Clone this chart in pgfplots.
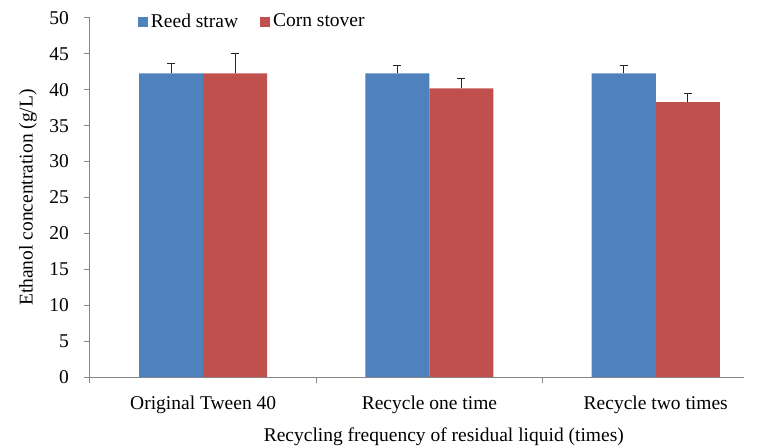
\documentclass[border=0pt]{standalone}
\usepackage{pgfplots}
\pgfplotsset{compat=1.18}
\usepackage{fontspec}
\setmainfont{Liberation Serif}
\definecolor{cblue}{HTML}{4F81BD}
\definecolor{cred}{HTML}{C0504D}
\definecolor{axgray}{HTML}{868686}
\begin{document}
\fontsize{19.5bp}{23bp}\selectfont
\begin{tikzpicture}
\begin{axis}[
  scale only axis,
  width=654bp, height=359bp,
  ymin=0, ymax=50,
  ytick={0,5,...,50},
  xmin=-0.5, xmax=2.39,
  xtick={0,1,2},
  xticklabels={Original Tween 40, Recycle one time, Recycle two times},
  minor xtick={-0.5,0.5,1.5},
  axis x line=bottom, axis y line=left,
  axis line style={axgray, line width=1bp, -},
  tick align=outside,
  major tick length=5.5bp, minor tick length=6bp,
  x tick style={draw=none},
  minor x tick style={draw=axgray, line width=1bp},
  y tick style={axgray, line width=1bp},
  /pgf/number format/assume math mode=true,
  tick label style={font=\fontsize{19.5bp}{23bp}\selectfont, black},
  xticklabel style={yshift=-7bp},
  yticklabel style={xshift=-9bp},
  ylabel={Ethanol concentration (g/L)},
  xlabel={Recycling frequency of residual liquid (times)},
  label style={font=\fontsize{19.5bp}{23bp}\selectfont},
  every axis y label/.style={at={(axis description cs:-0.095,0.5)}, rotate=90, anchor=center},
  every axis x label/.style={at={(axis description cs:0.541,-0.167)}, anchor=center},
  ybar=0pt, bar width=0.283,
  legend columns=2,
  legend style={at={(axis description cs:0.073,0.989)}, anchor=west, draw=none, fill=none,
    font=\fontsize{19.5bp}{23bp}\selectfont, inner sep=0pt,
    /tikz/every odd column/.append style={column sep=1bp},
    /tikz/every even column/.append style={column sep=20bp}},
  legend image code/.code={\fill[#1] (0bp,-5bp) rectangle (10bp,5bp);},
  error bars/error bar style={line width=1bp, black!85},
  error bars/error mark options={rotate=90, mark size=4bp, line width=1bp, black!85},
]
\addplot[fill=cblue, draw=none, error bars/.cd, y dir=plus, y explicit]
  coordinates {(0,42.3) +- (0,1.4) (1,42.3) +- (0,1.1) (2,42.3) +- (0,1.1)};
\addplot[fill=cred, draw=none, error bars/.cd, y dir=plus, y explicit]
  coordinates {(0,42.3) +- (0,2.8) (1,40.2) +- (0,1.4) (2,38.3) +- (0,1.2)};
\legend{Reed straw, Corn stover}
\end{axis}
\pgfresetboundingbox
\path[use as bounding box] (-90bp,-71bp) rectangle (668bp,377bp);
\end{tikzpicture}
\end{document}
